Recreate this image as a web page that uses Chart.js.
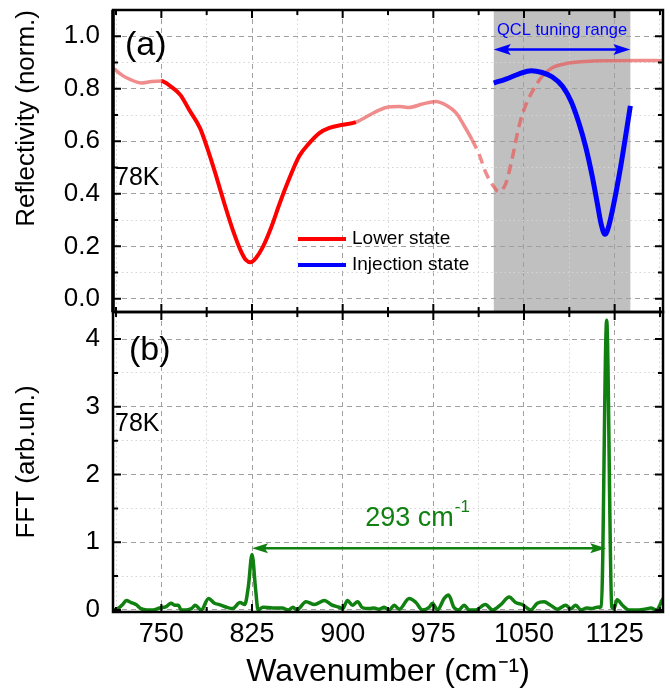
<!DOCTYPE html>
<html><head><meta charset="utf-8">
<script src="https://cdn.jsdelivr.net/npm/chart.js@4.4.1/dist/chart.umd.min.js"></script>
<style>
html,body{margin:0;padding:0;background:#fff;}
#wrap{position:relative;width:670px;height:695px;overflow:hidden;background:#fff;}
canvas{position:absolute;left:0;}
#top{top:0;}
#bot{top:304px;}
</style></head><body>
<div id="wrap"><canvas id="top" width="670" height="320"></canvas><canvas id="bot" width="670" height="391"></canvas></div>
<script>
// ---------- data ----------
const reflWavenumbers = [710,718,725,733,742,750,758,766,773,782,788,795,802,809,816,820,824,828,834,841,848,856,864,872,881,889,900,911,925,936,947,955,966,977,985,994,1000,1007,1013,1018,1024,1029,1035,1040,1046,1051,1057,1065,1073,1084,1101,1123,1145,1165];
const lowerState = [0.879,0.85,0.834,0.822,0.828,0.83,0.808,0.775,0.72,0.65,0.574,0.473,0.365,0.264,0.18,0.148,0.139,0.154,0.198,0.274,0.365,0.46,0.543,0.591,0.632,0.651,0.663,0.673,0.707,0.729,0.733,0.729,0.742,0.752,0.739,0.707,0.663,0.606,0.549,0.485,0.434,0.409,0.44,0.53,0.66,0.733,0.79,0.847,0.879,0.895,0.904,0.907,0.908,0.907];
const injWavenumbers = [1025,1035,1046,1056,1065,1073.5,1082,1089,1095.5,1101,1106.5,1110.6,1114,1117,1120,1124.4,1130,1134,1138];
const injectionState = [0.822,0.837,0.857,0.869,0.862,0.845,0.809,0.752,0.669,0.58,0.466,0.365,0.282,0.246,0.275,0.365,0.504,0.618,0.735];
const fftWavenumbers = [710,714,718,721,725,729,733,738,743,748.6,754,758,761,764,766.5,770.6,775,778,783,789,794,798,804,809,815,819,822,825,828,830,834,842,850,855,859,862,869.7,876.6,885,890.4,897,900,904,908,912.4,916.5,922,926,930,934.4,938.6,942.7,946.8,955,960.6,966,971.6,974.3,978.4,984,987.6,992,996,1000.5,1004.6,1010,1018,1024,1030.8,1037.7,1043,1048.7,1055.5,1061,1066.6,1072,1077.6,1084.5,1088.6,1092.8,1097,1102,1106,1110.6,1114,1118.4,1122.6,1124.5,1127,1131.4,1137,1145,1152,1155,1159.4,1165];
const fftValues = [0.0,0.02,0.08,0.14,0.11,0.08,0.02,0.0,0.0,0.03,0.05,0.1,0.07,0.07,0.0,0.0,0.02,0.07,0.0,0.17,0.1,0.08,0.04,0.02,0.11,0.08,0.35,0.82,0.3,0.0,0.04,0.03,0.03,0.0,0.04,0.0,0.12,0.08,0.14,0.08,0.04,0.02,0.14,0.07,0.12,0.03,0.02,0.03,0.01,0.04,0.0,0.07,0.01,0.17,0.11,0.0,0.04,0.1,0.0,0.17,0.22,0.04,0.0,0.07,0.0,0.0,0.08,0.0,0.08,0.19,0.11,0.08,0.0,0.1,0.12,0.07,0.01,0.07,0.02,0.07,0.0,0.03,0.02,0.04,0.05,4.28,0.05,0.02,0.15,0.07,0.0,0.0,0.02,0.03,0.0,0.17];

const xTickValues = [750,825,900,975,1050,1125];
const xTickLabels = ['750','825','900','975','1050','1125'];
const xMinorValues = [712.5,787.5,862.5,937.5,1012.5,1087.5,1162.5];
const reflTickValues = [0,0.2,0.4,0.6,0.8,1.0];
const reflTickLabels = ['0.0','0.2','0.4','0.6','0.8','1.0'];
const reflMinorValues = [0.1,0.3,0.5,0.7,0.9];
const fftTickValues = [0,1,2,3,4];
const fftTickLabels = ['0','1','2','3','4'];
const fftMinorValues = [0.5,1.5,2.5,3.5];
const tuningRange = [1025,1138];
const fftPeaks = [825,1118];
const splitting = '293';

// ---------- helpers ----------
const FONT = "'Liberation Sans', Arial, sans-serif";
const TICKFONT = "'Liberation Sans Narrow', 'Liberation Sans', Arial, sans-serif";
const near = (a,b)=>Math.abs(a-b)<1e-6;
const isIn = (arr,v)=>arr.some(t=>near(t,v));
function setTicks(major, minor){
  return (scale)=>{ scale.ticks = major.concat(minor).sort((a,b)=>a-b).map(v=>({value:v})); };
}
function labeller(values, labels){
  return (v)=>{ const i = values.findIndex(t=>near(t,v)); return i>=0 ? labels[i] : ''; };
}
function gridFor(major){
  return { color: c => (c.tick && isIn(major, c.tick.value)) ? '#a0a0a0' : '#d4d4d4', lineWidth: 1, drawTicks: false };
}
function borderFor(major){
  return { display: false, dash: c => (c.tick && isIn(major, c.tick.value)) ? [5,4] : [1.5,3] };
}
function fitY(s){ s.width = 113; s.paddingTop = 0; s.paddingBottom = 0; }
function arrowH(ctx, x0, x1, yy, color, lw, head, half){
  ctx.save();
  ctx.strokeStyle = color; ctx.fillStyle = color; ctx.lineWidth = lw;
  ctx.beginPath(); ctx.moveTo(x0 + head*0.7, yy); ctx.lineTo(x1 - head*0.7, yy); ctx.stroke();
  ctx.beginPath(); ctx.moveTo(x0, yy); ctx.lineTo(x0+head, yy-half); ctx.lineTo(x0+head*0.8, yy); ctx.lineTo(x0+head, yy+half); ctx.closePath(); ctx.fill();
  ctx.beginPath(); ctx.moveTo(x1, yy); ctx.lineTo(x1-head, yy-half); ctx.lineTo(x1-head*0.8, yy); ctx.lineTo(x1-head, yy+half); ctx.closePath(); ctx.fill();
  ctx.restore();
}

const framePlugin = {
  id: 'frame',
  afterDraw(chart, args, o){
    const {ctx, chartArea:a, scales} = chart;
    const x = scales.x, y = scales.y;
    ctx.save();
    ctx.strokeStyle = '#000'; ctx.lineWidth = 2;
    ctx.beginPath();
    xTickValues.map(v=>[v,8]).concat(xMinorValues.map(v=>[v,5])).forEach(([v,l])=>{
      const px = x.getPixelForValue(v);
      if (px < a.left+1 || px > a.right-1) return;
      ctx.moveTo(px, a.bottom); ctx.lineTo(px, a.bottom - l);
      ctx.moveTo(px, a.top); ctx.lineTo(px, a.top + l);
    });
    o.yMajor.map(v=>[v,8]).concat(o.yMinor.map(v=>[v,5])).forEach(([v,l])=>{
      const py = y.getPixelForValue(v);
      ctx.moveTo(a.left, py); ctx.lineTo(a.left + l, py);
      ctx.moveTo(a.right, py); ctx.lineTo(a.right - l, py);
    });
    ctx.stroke();
    ctx.lineWidth = 2.5;
    ctx.strokeRect(a.left, a.top, a.right - a.left, a.bottom - a.top);
    if (o.thickLeft) { ctx.lineWidth = 3.5; ctx.beginPath(); ctx.moveTo(a.left, a.top); ctx.lineTo(a.left, a.bottom); ctx.stroke(); }
    ctx.restore();
  }
};

const shadePlugin = {
  id: 'shade',
  beforeDraw(chart){
    const {ctx, chartArea:a, scales:{x}} = chart;
    const x0 = x.getPixelForValue(tuningRange[0]), x1 = x.getPixelForValue(tuningRange[1]);
    ctx.save(); ctx.fillStyle = '#c0c0c0'; ctx.fillRect(x0, a.top, x1 - x0, a.bottom - a.top); ctx.restore();
  }
};

const topNotes = {
  id: 'topNotes',
  afterDraw(chart){
    const {ctx, chartArea:a, scales:{x,y}} = chart;
    ctx.save();
    ctx.fillStyle = '#000'; ctx.textBaseline = 'middle'; ctx.textAlign = 'left';
    ctx.font = `34px ${FONT}`; ctx.fillText('(a)', a.left + 12, a.top + 36);
    ctx.font = `25px ${FONT}`; ctx.fillText('78K', a.left + 2, a.top + 168);
    // legend
    const ds = chart.data.datasets;
    [0,1].forEach(i=>{
      const yy = a.top + 229 + i*26;
      ctx.strokeStyle = ds[i].borderColor; ctx.lineWidth = 4;
      ctx.beginPath(); ctx.moveTo(298, yy); ctx.lineTo(346, yy); ctx.stroke();
      ctx.fillStyle = '#000'; ctx.font = `19px ${FONT}`; ctx.fillText(ds[i].label, 352, yy);
    });
    // tuning range arrow
    const x0 = x.getPixelForValue(tuningRange[0]), x1 = x.getPixelForValue(tuningRange[1]);
    const ya = y.getPixelForValue(0.95);
    arrowH(ctx, x0, x1, ya, '#0000ff', 2.5, 17, 5.5);
    ctx.fillStyle = '#0000ff'; ctx.font = `16.5px ${FONT}`; ctx.textAlign = 'center';
    ctx.fillText('QCL tuning range', (x0 + x1)/2, ya - 19);
    ctx.restore();
  }
};

const botNotes = {
  id: 'botNotes',
  afterDraw(chart){
    const {ctx, chartArea:a, scales:{x,y}} = chart;
    ctx.save();
    ctx.fillStyle = '#000'; ctx.textBaseline = 'middle'; ctx.textAlign = 'left';
    ctx.font = `34px ${FONT}`; ctx.fillText('(b)', a.left + 16, a.top + 39);
    ctx.font = `25px ${FONT}`; ctx.fillText('78K', a.left + 2, a.top + 112);
    const green = 'rgb(16,128,16)';
    const x0 = x.getPixelForValue(fftPeaks[0]), x1 = x.getPixelForValue(fftPeaks[1]);
    const ya = y.getPixelForValue(0.91);
    arrowH(ctx, x0, x1, ya, green, 2.5, 16, 5);
    ctx.fillStyle = green; ctx.font = `27px ${FONT}`;
    const main = splitting + ' cm';
    const wMain = ctx.measureText(main).width;
    ctx.font = `17px ${FONT}`;
    const wSup = ctx.measureText('-1').width;
    const left = (x0 + x1)/2 - 12 - (wMain + wSup)/2;
    ctx.font = `27px ${FONT}`; ctx.fillText(main, left, ya - 30);
    ctx.font = `17px ${FONT}`; ctx.fillText('-1', left + wMain + 1, ya - 41);
    ctx.restore();
  }
};

const lowerData = reflWavenumbers.map((w,i)=>({x:w, y:lowerState[i]}));
const injData = injWavenumbers.map((w,i)=>({x:w, y:injectionState[i]}));
const fftData = fftWavenumbers.map((w,i)=>({x:w, y:fftValues[i]}));

const FADED = 'rgba(234,86,86,0.68)';
const isFaded = c => c.p0.parsed.x < 750 || c.p0.parsed.x >= 911;
const isDashed = c => c.p0.parsed.x >= 1007 && c.p0.parsed.x < 1065;

const xCommon = {
  type: 'linear', min: 710, max: 1165,
  afterBuildTicks: setTicks(xTickValues, xMinorValues),
  grid: gridFor(xTickValues), border: borderFor(xTickValues)
};

new Chart(document.getElementById('top'), {
  type: 'line',
  data: { datasets: [
    { label: 'Lower state', data: lowerData, borderColor: '#ff0000', borderWidth: 4, pointRadius: 0,
      cubicInterpolationMode: 'monotone', order: 2,
      segment: {
        borderColor: c => isFaded(c) ? FADED : undefined,
        borderWidth: c => isFaded(c) ? 3.5 : undefined,
        borderDash: c => isDashed(c) ? [10,6] : undefined
      } },
    { label: 'Injection state', data: injData, borderColor: '#0000ff', borderWidth: 5, pointRadius: 0,
      cubicInterpolationMode: 'monotone', order: 1 }
  ]},
  options: {
    responsive: false, animation: false, events: [],
    layout: { padding: { left: 0, right: 7, top: 10, bottom: 8 } },
    scales: {
      x: Object.assign({}, xCommon, { ticks: { display: false }, title: { display: false },
        afterFit: s => { s.height = 0; s.paddingLeft = 0; s.paddingRight = 0; } }),
      y: { type: 'linear', min: -0.05, max: 1.1,
        afterBuildTicks: setTicks(reflTickValues, reflMinorValues),
        afterFit: fitY,
        ticks: { autoSkip: false, padding: 13, color: '#000', font: { family: FONT, size: 26 },
          callback: labeller(reflTickValues, reflTickLabels) },
        grid: gridFor(reflTickValues), border: borderFor(reflTickValues),
        title: { display: true, text: 'Reflectivity (norm.)', align: 'end', color: '#000',
          font: { family: FONT, size: 26 }, padding: { top: 11, bottom: 0 } } }
    },
    plugins: { legend: { display: false }, tooltip: { enabled: false },
      frame: { yMajor: reflTickValues, yMinor: reflMinorValues, thickLeft: true } }
  },
  plugins: [shadePlugin, framePlugin, topNotes]
});

new Chart(document.getElementById('bot'), {
  type: 'line',
  data: { datasets: [
    { label: 'FFT', data: fftData, borderColor: 'rgb(16,128,16)', borderWidth: 3.5, pointRadius: 0,
      cubicInterpolationMode: 'monotone' }
  ]},
  options: {
    responsive: false, animation: false, events: [],
    layout: { padding: { left: 0, right: 7, top: 8, bottom: 0 } },
    scales: {
      x: Object.assign({}, xCommon, {
        afterFit: s => { s.height = 83; s.paddingLeft = 0; s.paddingRight = 0; },
        ticks: { autoSkip: false, maxRotation: 0, padding: 6, color: '#000', font: { family: TICKFONT, size: 27 },
          callback: labeller(xTickValues, xTickLabels) },
        title: { display: true, text: 'Wavenumber (cm\u207B\u00B9)', color: '#000',
          font: { family: FONT, size: 32 }, padding: { top: 0, bottom: 4 } } }),
      y: { type: 'linear', min: -0.03, max: 4.4,
        afterBuildTicks: setTicks(fftTickValues, fftMinorValues),
        afterFit: fitY,
        ticks: { autoSkip: false, padding: 13, color: '#000', font: { family: FONT, size: 26 },
          callback: labeller(fftTickValues, fftTickLabels) },
        grid: gridFor(fftTickValues), border: borderFor(fftTickValues),
        title: { display: true, text: 'FFT (arb.un.)', color: '#000',
          font: { family: FONT, size: 26 }, padding: { top: 11, bottom: 0 } } }
    },
    plugins: { legend: { display: false }, tooltip: { enabled: false },
      frame: { yMajor: fftTickValues, yMinor: fftMinorValues, thickLeft: false } }
  },
  plugins: [framePlugin, botNotes]
});
</script>
</body></html>
